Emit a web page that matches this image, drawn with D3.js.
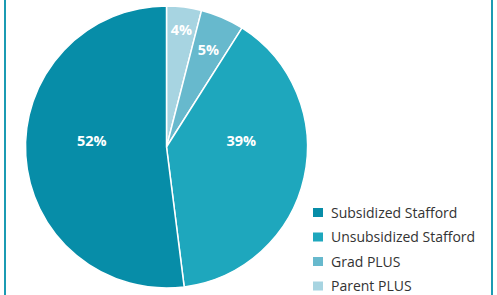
<!DOCTYPE html>
<html>
<head>
<meta charset="utf-8">
<script src="https://cdn.jsdelivr.net/npm/d3@7"></script>
<style>
    html, body { margin: 0; padding: 0; background: #fff; }
    svg { display: block; }
</style>
</head>
<body>
<div id="canvas"></div>
<script>
const categories = ['Subsidized Stafford', 'Unsubsidized Stafford', 'Grad PLUS', 'Parent PLUS'];
const shares = [52, 39, 5, 4];
const colors = ['#078da8', '#1ea7bd', '#67b9cd', '#a7d4e1'];

const width = 497;
const height = 295;
const cx = 166.5;
const cy = 147;
const radius = 141;

const svg = d3.select('#canvas')
    .append('svg')
    .attr('width', width)
    .attr('height', height);

// frame (only the side edges show in the crop)
svg.append('line').attr('x1', 5).attr('x2', 5).attr('y1', 0).attr('y2', height)
    .attr('stroke', '#1b9bb3').attr('stroke-width', 2);
svg.append('line').attr('x1', 492).attr('x2', 492).attr('y1', 0).attr('y2', height)
    .attr('stroke', '#1b9bb3').attr('stroke-width', 2);

const color = d3.scaleOrdinal().domain(categories).range(colors);

const data = categories.map((name, i) => ({ name, value: shares[i] }));

// clockwise from 12 o'clock: Parent PLUS, Grad PLUS, Unsubsidized, Subsidized
const pie = d3.pie()
    .value(d => d.value)
    .sort(null);
const slices = pie(data.slice().reverse());

const arc = d3.arc().innerRadius(0).outerRadius(radius);

const g = svg.append('g').attr('transform', `translate(${cx},${cy})`);

g.selectAll('path')
    .data(slices)
    .enter()
    .append('path')
    .attr('d', arc)
    .attr('fill', d => color(d.data.name))
    .attr('stroke', '#fff')
    .attr('stroke-width', 1.5)
    .attr('stroke-linejoin', 'round');

// small wedges: label out near the rim; big wedges: label on the centre line
function labelPos(d) {
    const mid = (d.startAngle + d.endAngle) / 2;
    if (d.data.value < 10) {
        const r = radius * (0.84 - (d.data.value - 4) * 0.09);
        return [Math.sin(mid) * r, -Math.cos(mid) * r + 5];
    }
    return [Math.sign(Math.sin(mid)) * radius * 0.53, -1];
}

g.selectAll('.label')
    .data(slices)
    .enter()
    .append('text')
    .classed('label', true)
    .text(d => d.data.value + '%')
    .attr('x', d => labelPos(d)[0])
    .attr('y', d => labelPos(d)[1])
    .attr('text-anchor', 'middle')
    .attr('fill', '#fff')
    .style('font-family', '"Open Sans", sans-serif')
    .style('font-weight', 'bold')
    .style('font-size', '14.5px');

const legend = svg.append('g').attr('transform', 'translate(313,208)');
const rows = legend.selectAll('g')
    .data(categories)
    .enter()
    .append('g')
    .attr('transform', (d, i) => `translate(0,${i * 24.5})`);

rows.append('rect')
    .attr('width', 10)
    .attr('height', 9)
    .attr('fill', d => color(d));

rows.append('text')
    .text(d => d)
    .attr('x', 18)
    .attr('y', 9.5)
    .attr('fill', '#333')
    .style('font-family', '"Open Sans", sans-serif')
    .style('font-size', '14px');
</script>
</body>
</html>
